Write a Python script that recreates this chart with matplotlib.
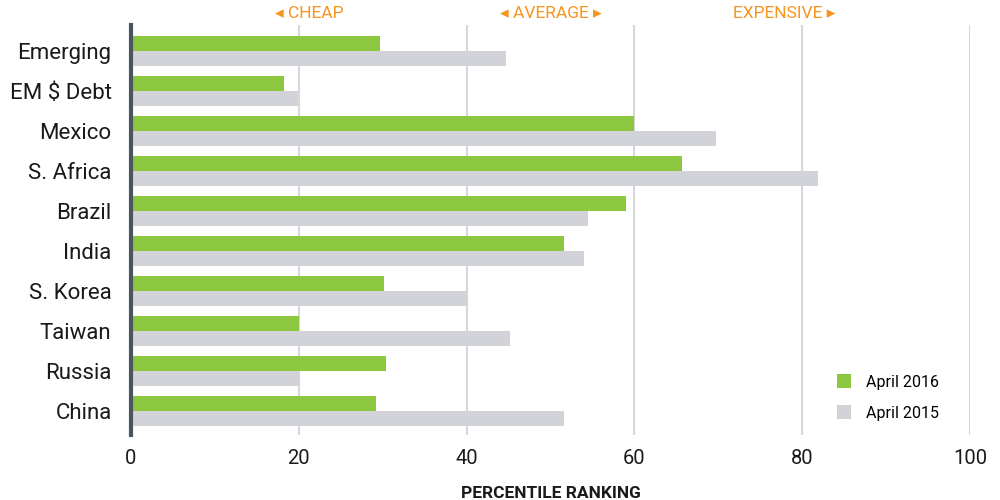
import matplotlib
matplotlib.use("Agg")
import matplotlib.pyplot as plt
from matplotlib.patches import Patch
import numpy as np

categories = ["Emerging", "EM $ Debt", "Mexico", "S. Africa", "Brazil", "India",
              "S. Korea", "Taiwan", "Russia", "China"]
april_2016 = [29.7, 18.2, 60.0, 65.7, 59.0, 51.6, 30.2, 20.0, 30.4, 29.2]
april_2015 = [44.7, 19.9, 69.7, 81.9, 54.5, 54.0, 40.0, 45.2, 20.0, 51.6]
xticks = [0, 20, 40, 60, 80, 100]
zones = [("\u25c2 CHEAP", 21.3), ("\u25c2 AVERAGE \u25b8", 50.0), ("EXPENSIVE \u25b8", 77.8)]

plt.rcParams['font.family'] = ['Roboto', 'DejaVu Sans']

GREEN = "#8DC63F"
GRAY = "#D1D3D8"
ORANGE = "#F7941D"

fig = plt.figure(figsize=(10, 5), dpi=100)
ax = fig.add_axes([0.131, 0.13, 0.839, 0.82])

y = np.arange(len(categories))
h = 0.375
ax.barh(y - h / 2, april_2016, height=h, color=GREEN, label="April 2016", zorder=3)
ax.barh(y + h / 2, april_2015, height=h, color=GRAY, label="April 2015", zorder=3)

ax.set_xlim(0, 100)
ax.set_ylim(9.59, -0.64)
ax.set_xticks(xticks)
ax.set_xticklabels([str(t) for t in xticks], fontsize=14.5, color="#1a1a1a")
ax.set_yticks(y)
ax.set_yticklabels(categories, fontsize=16, color="#1a1a1a")
ax.tick_params(axis="both", length=0)
ax.tick_params(axis="x", pad=10)
ax.tick_params(axis="y", pad=14)

for t in xticks[1:]:
    ax.axvline(t, color="#D5D7DB", lw=1.5, zorder=1)

for s in ["top", "right", "bottom"]:
    ax.spines[s].set_visible(False)
ax.spines["left"].set_color("#4A5560")
ax.spines["left"].set_linewidth(3)
ax.spines["left"].set_zorder(4)

ax.set_xlabel("PERCENTILE RANKING", fontsize=12.5, fontweight="bold", color="#1a1a1a", labelpad=13)

for label, xpos in zones:
    ax.text(xpos, 1.027, label, transform=ax.get_xaxis_transform(), ha="center", va="center",
            fontsize=12.5, color=ORANGE)

handles = [Patch(facecolor=GREEN, label="April 2016"), Patch(facecolor=GRAY, label="April 2015")]
ax.legend(handles=handles, loc="lower right", bbox_to_anchor=(0.98, 0.0), frameon=False,
          fontsize=11.5, handlelength=0.9, handleheight=0.9, labelspacing=1.0, handletextpad=0.9)

fig.savefig("out.png", dpi=100)
